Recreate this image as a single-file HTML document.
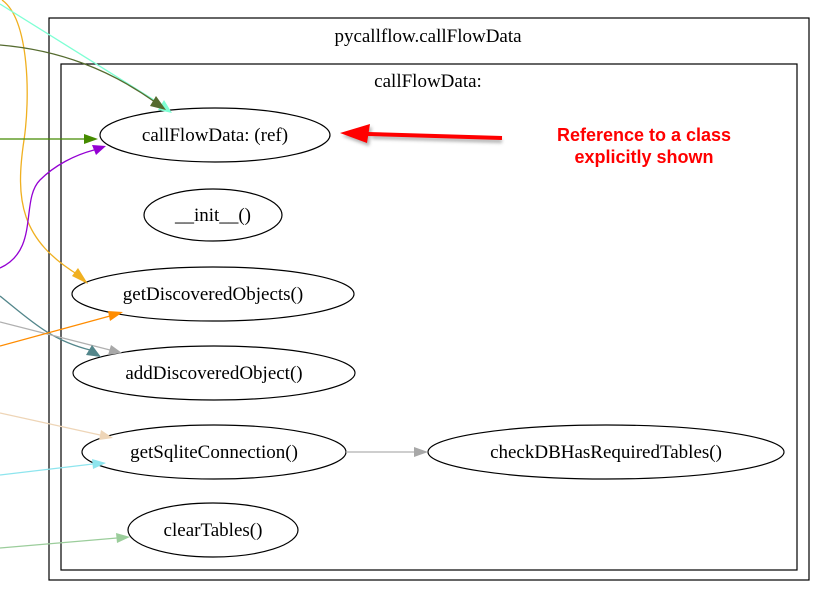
<!DOCTYPE html>
<html><head><meta charset="utf-8"><style>
html,body{margin:0;padding:0;background:#fff;}
svg{display:block;}
.t{font-family:"Liberation Serif",serif;font-size:19px;text-anchor:middle;fill:#000;}
.r{font-family:"Liberation Sans",sans-serif;font-size:18px;font-weight:bold;text-anchor:middle;fill:#f00;}
</style></head><body>
<svg width="820" height="590" viewBox="0 0 820 590" xmlns="http://www.w3.org/2000/svg">
<defs>
<filter id="sh" x="-10%" y="-50%" width="120%" height="200%"><feGaussianBlur stdDeviation="1.5"/></filter>
</defs>
<rect x="49" y="18" width="760" height="562" fill="none" stroke="#000" stroke-width="1.2"/>
<rect x="61" y="64" width="736" height="506" fill="none" stroke="#000" stroke-width="1.2"/>
<text class="t" x="428" y="42">pycallflow.callFlowData</text>
<text class="t" x="428" y="87">callFlowData:</text>

<g fill="none" stroke="#000" stroke-width="1.2">
<ellipse cx="215" cy="135" rx="115" ry="27"/>
<ellipse cx="213" cy="215" rx="69" ry="26"/>
<ellipse cx="213" cy="294" rx="141" ry="27"/>
<ellipse cx="214" cy="373" rx="141" ry="27"/>
<ellipse cx="214" cy="452" rx="132" ry="27"/>
<ellipse cx="606" cy="452" rx="178" ry="27"/>
<ellipse cx="213" cy="530" rx="85" ry="27"/>
</g>
<text class="t" x="215" y="141">callFlowData: (ref)</text>
<text class="t" x="213" y="221">__init__()</text>
<text class="t" x="213" y="300">getDiscoveredObjects()</text>
<text class="t" x="214" y="379">addDiscoveredObject()</text>
<text class="t" x="214" y="458">getSqliteConnection()</text>
<text class="t" x="606" y="458">checkDBHasRequiredTables()</text>
<text class="t" x="213" y="536">clearTables()</text>

<g fill="none" stroke-width="1.3">
<path d="M2,0 C30,20 30,100 24,140 C15,200 20,240 80,276" stroke="#f0b020"/>
<path d="M0,4 L162,105" stroke="#7fffd4"/>
<path d="M0,45 C60,50 110,70 155,102" stroke="#556b2f"/>
<path d="M0,139 L84,139" stroke="#458b00"/>
<path d="M0,268 C40,250 20,200 40,180 C55,165 75,155 94,150" stroke="#9400d3"/>
<path d="M0,296 C30,320 50,340 90,350" stroke="#53868b"/>
<path d="M0,322 L110,350" stroke="#b0b0b0"/>
<path d="M0,346 L110,316" stroke="#ff8c00"/>
<path d="M0,413 L100,435" stroke="#eed5b7"/>
<path d="M0,475 L93,464" stroke="#8ee5ee"/>
<path d="M0,548 L117,538" stroke="#9bcd9b"/>
<path d="M346,452 L415,452" stroke="#b0b0b0"/>
</g>
<g stroke="none">
<polygon points="88,284 72,276 78,268" fill="#f0b020"/>
<polygon points="172,113 158,110 164,100" fill="#7fffd4"/>
<polygon points="166,110 150,106 156,96" fill="#556b2f"/>
<polygon points="98,139 84,134 84,144" fill="#458b00"/>
<polygon points="106,146 92,145 96,155" fill="#9400d3"/>
<polygon points="101,357 86,355 92,345" fill="#53868b"/>
<polygon points="122,353 108,355 111,345" fill="#a8a8a8"/>
<polygon points="123,312 110,321 108,311" fill="#ff8c00"/>
<polygon points="113,438 99,440 101,430" fill="#eed5b7"/>
<polygon points="106,463 93,469 92,459" fill="#8ee5ee"/>
<polygon points="130,537 117,543 116,533" fill="#9bcd9b"/>
<polygon points="428,452 414,447 414,457" fill="#a8a8a8"/>
</g>
<g transform="translate(2,3)" filter="url(#sh)" opacity="0.5">
<path d="M500,138 L370,134" stroke="#666" stroke-width="4"/>
<polygon points="340,133 370,124 367,143" fill="#666"/>
</g>
<path d="M502,138 L368,134" stroke="#f00" stroke-width="4"/>
<polygon points="340,133 370,124 367,143" fill="#f00"/>
<text class="r" x="644" y="141">Reference to a class</text>
<text class="r" x="644" y="163">explicitly shown</text>
</svg>
</body></html>
